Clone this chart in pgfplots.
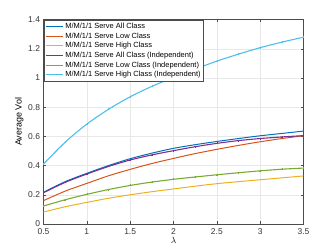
\documentclass[border=0pt]{standalone}
\usepackage{pgfplots}
\pgfplotsset{compat=1.18}
\usepackage{fontspec}
\setmainfont{Liberation Sans}
\definecolor{c1}{rgb}{0,0.447,0.741}
\definecolor{c2}{rgb}{0.85,0.325,0.098}
\definecolor{c3}{rgb}{0.929,0.694,0.125}
\definecolor{c4}{rgb}{0.494,0.184,0.556}
\definecolor{c5}{rgb}{0.466,0.674,0.188}
\definecolor{c6}{rgb}{0.301,0.745,0.933}
\begin{document}
\begin{tikzpicture}
\useasboundingbox (-43.5bp,-28bp) rectangle (292.5bp,224bp);
\begin{axis}[
  scale only axis, width=260bp, height=204.5bp,
  xmin=0.5, xmax=3.5, ymin=0, ymax=1.4,
  xtick={0.5,1,...,3.5}, ytick={0,0.2,...,1.4},
  xticklabels={0.5,1,1.5,2,2.5,3,3.5},
  yticklabels={0,0.2,0.4,0.6,0.8,1,1.2,1.4},
  tick align=inside, tick pos=both,
  major tick length=2.5bp,
  grid=major, grid style={gray!18, line width=0.4pt},
  axis line style={gray!60!black, line width=0.5pt},
  tick style={gray!60!black},
  ticklabel style={font=\fontsize{8.5}{9}\selectfont, text=black!80},
  xticklabel style={yshift=-1.5bp},
  xlabel={$\lambda$}, ylabel={Average Vol},
  label style={font=\fontsize{9}{10}\selectfont},
  xlabel style={yshift=5bp},
  ylabel style={yshift=-2bp},
  legend style={at={(0,1)}, anchor=north west, xshift=0.5bp, yshift=-0.3bp,
    font=\fontsize{7.5}{8}\selectfont, draw=gray!60!black, line width=0.4pt,
    inner sep=1pt, row sep=-1.2pt, cells={anchor=west}},
  legend image code/.code={\draw[#1] (0cm,0cm) -- (0.6cm,0cm);},
  every axis plot/.append style={line width=1pt},
]
\addplot[c1, smooth] coordinates {(0.5,0.217)(0.75,0.29)(1,0.347)(1.25,0.40)(1.5,0.447)(1.75,0.485)(2,0.518)(2.25,0.543)(2.5,0.565)(2.75,0.585)(3,0.604)(3.25,0.62)(3.5,0.636)};
\addlegendentry{M/M/1/1 Serve All Class}
\addplot[c2, smooth] coordinates {(0.5,0.16)(0.75,0.225)(1,0.278)(1.25,0.33)(1.5,0.374)(1.75,0.414)(2,0.449)(2.25,0.482)(2.5,0.511)(2.75,0.538)(3,0.563)(3.25,0.585)(3.5,0.604)};
\addlegendentry{M/M/1/1 Serve Low Class}
\addplot[c3, smooth] coordinates {(0.5,0.082)(0.75,0.118)(1,0.148)(1.25,0.176)(1.5,0.2)(1.75,0.221)(2,0.24)(2.25,0.259)(2.5,0.276)(2.75,0.29)(3,0.303)(3.25,0.316)(3.5,0.329)};
\addlegendentry{M/M/1/1 Serve High Class}
\addplot[c4, smooth, line width=1.1pt, mark=+, mark size=1pt, mark options={line width=0.5pt}] coordinates {(0.5,0.214)(0.75,0.285)(1,0.342)(1.25,0.394)(1.5,0.438)(1.75,0.473)(2,0.502)(2.25,0.529)(2.5,0.552)(2.75,0.571)(3,0.585)(3.25,0.596)(3.5,0.605)};
\addlegendentry{M/M/1/1 Serve All Class (Independent)}
\addplot[c5, smooth, line width=1.1pt, mark=+, mark size=1pt, mark options={line width=0.5pt}] coordinates {(0.5,0.123)(0.75,0.166)(1,0.203)(1.25,0.236)(1.5,0.264)(1.75,0.287)(2,0.306)(2.25,0.322)(2.5,0.337)(2.75,0.351)(3,0.364)(3.25,0.375)(3.5,0.383)};
\addlegendentry{M/M/1/1 Serve Low Class (Independent)}
\addplot[c6, smooth, line width=1.1pt, mark=+, mark size=1pt, mark options={line width=0.5pt}] coordinates {(0.5,0.41)(0.75,0.56)(1,0.684)(1.25,0.785)(1.5,0.871)(1.75,0.942)(2,1.003)(2.25,1.06)(2.5,1.115)(2.75,1.163)(3,1.207)(3.25,1.245)(3.5,1.279)};
\addlegendentry{M/M/1/1 Serve High Class (Independent)}
\end{axis}
\end{tikzpicture}
\end{document}
